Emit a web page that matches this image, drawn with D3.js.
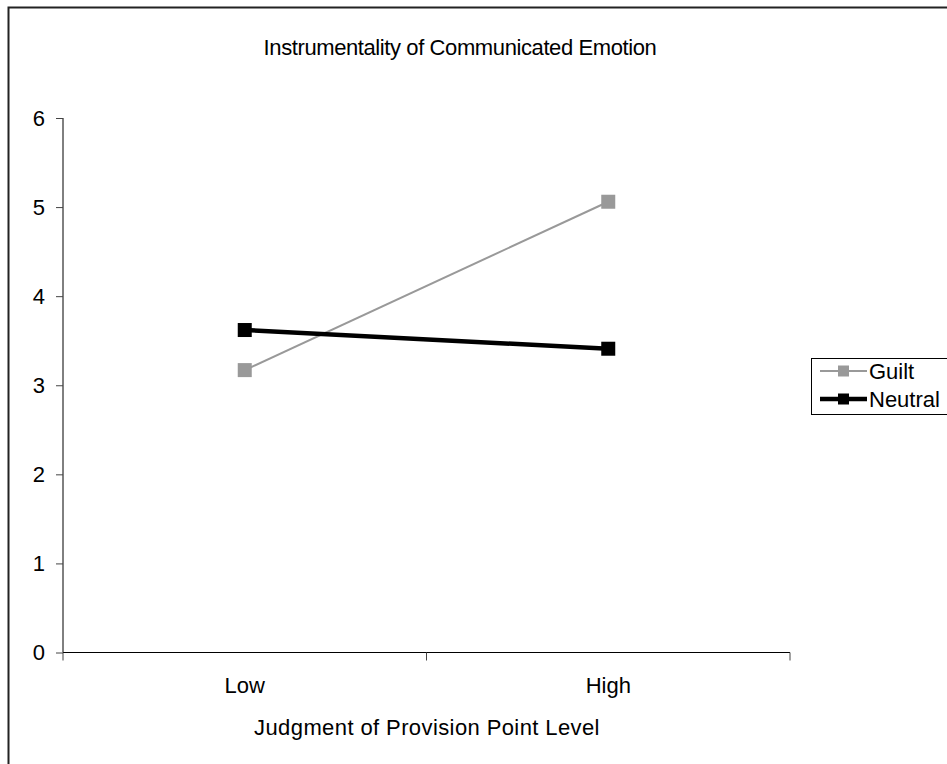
<!DOCTYPE html>
<html><head><meta charset="utf-8">
<script src="https://cdn.jsdelivr.net/npm/d3@7/dist/d3.min.js"></script>
<style>body{margin:0;background:#fff}svg{display:block}text{font-family:"Liberation Sans",Arial,sans-serif}</style>
</head><body>
<script>
const categories = ["Low", "High"];
const guilt = [3.17, 5.06];
const neutral = [3.62, 3.41];
const yTicks = [0, 1, 2, 3, 4, 5, 6];
const seriesNames = ["Guilt", "Neutral"];
const title = "Instrumentality of Communicated Emotion";
const xTitle = "Judgment of Provision Point Level";

const W = 947, H = 764, FS = 22;
const svg = d3.select("body").append("svg").attr("width", W).attr("height", H);

// outer border
svg.append("rect").attr("x", 8.5).attr("y", 7.5).attr("width", 960).attr("height", 780)
  .attr("fill", "none").attr("stroke", "#222").attr("stroke-width", 2);

const x0 = 63, x1 = 790, yTop = 118, yBot = 652.5;
const x = d3.scaleBand().domain(categories).range([x0, x1]);
const y = d3.scaleLinear().domain([0, 6]).range([yBot, yTop]);

// y axis
const ya = svg.append("g").attr("transform", `translate(${x0},0)`)
  .call(d3.axisLeft(y).tickValues(yTicks).tickSize(7).tickPadding(11).tickFormat(d3.format("d")));
ya.select(".domain").attr("stroke", "#000").attr("d", `M0,${yTop}V${yBot}`);
ya.selectAll(".tick line").attr("stroke", "#444");
ya.selectAll("text").attr("font-size", FS).attr("fill", "#000").attr("font-family", '"Liberation Sans",Arial,sans-serif');

// x axis
const xa = svg.append("g").attr("transform", `translate(0,${yBot})`)
  .call(d3.axisBottom(x).tickSize(0).tickPadding(25));
xa.select(".domain").attr("stroke", "#000").attr("d", `M${x0},0H${x1}`);
xa.selectAll("text").attr("font-size", FS).attr("fill", "#000").attr("font-family", '"Liberation Sans",Arial,sans-serif');
const xTickPos = [x0, (x0 + x1) / 2, x1];
xa.selectAll(".bt").data(xTickPos).enter().append("line").attr("class", "bt")
  .attr("x1", d => d).attr("x2", d => d).attr("y1", 0).attr("y2", 8).attr("stroke", "#444");

const cx = d => x(d) + x.bandwidth() / 2;

// titles
svg.append("text").attr("x", 460).attr("y", 55).attr("text-anchor", "middle")
  .attr("font-size", FS).attr("letter-spacing", -0.4).text(title);
svg.append("text").attr("x", 427).attr("y", 735).attr("text-anchor", "middle")
  .attr("font-size", FS).attr("letter-spacing", 0.4).text(xTitle);

const line = d3.line().x((d, i) => cx(categories[i])).y(d => y(d));

// Guilt
svg.append("path").datum(guilt).attr("d", line).attr("fill", "none").attr("stroke", "#999").attr("stroke-width", 2);
svg.selectAll(".gm").data(guilt).enter().append("rect")
  .attr("x", (d, i) => cx(categories[i]) - 7).attr("y", d => y(d) - 7)
  .attr("width", 14).attr("height", 14).attr("fill", "#999");

// Neutral
svg.append("path").datum(neutral).attr("d", line).attr("fill", "none").attr("stroke", "#000").attr("stroke-width", 4.5);
svg.selectAll(".nm").data(neutral).enter().append("rect")
  .attr("x", (d, i) => cx(categories[i]) - 7).attr("y", d => y(d) - 7)
  .attr("width", 14).attr("height", 14).attr("fill", "#000");

// legend
const lg = svg.append("g");
lg.append("rect").attr("x", 811.5).attr("y", 358.5).attr("width", 200).attr("height", 56)
  .attr("fill", "#fff").attr("stroke", "#000").attr("stroke-width", 1);
const legItems = [
  {name: seriesNames[0], color: "#999", sw: 2, yy: 371},
  {name: seriesNames[1], color: "#000", sw: 4.5, yy: 399}
];
legItems.forEach(it => {
  lg.append("line").attr("x1", 820).attr("x2", 867).attr("y1", it.yy).attr("y2", it.yy)
    .attr("stroke", it.color).attr("stroke-width", it.sw);
  lg.append("rect").attr("x", 838).attr("y", it.yy - 5.5).attr("width", 11).attr("height", 11).attr("fill", it.color);
  lg.append("text").attr("x", 869).attr("y", it.yy + 8).attr("font-size", FS).text(it.name);
});
</script>
</body></html>
